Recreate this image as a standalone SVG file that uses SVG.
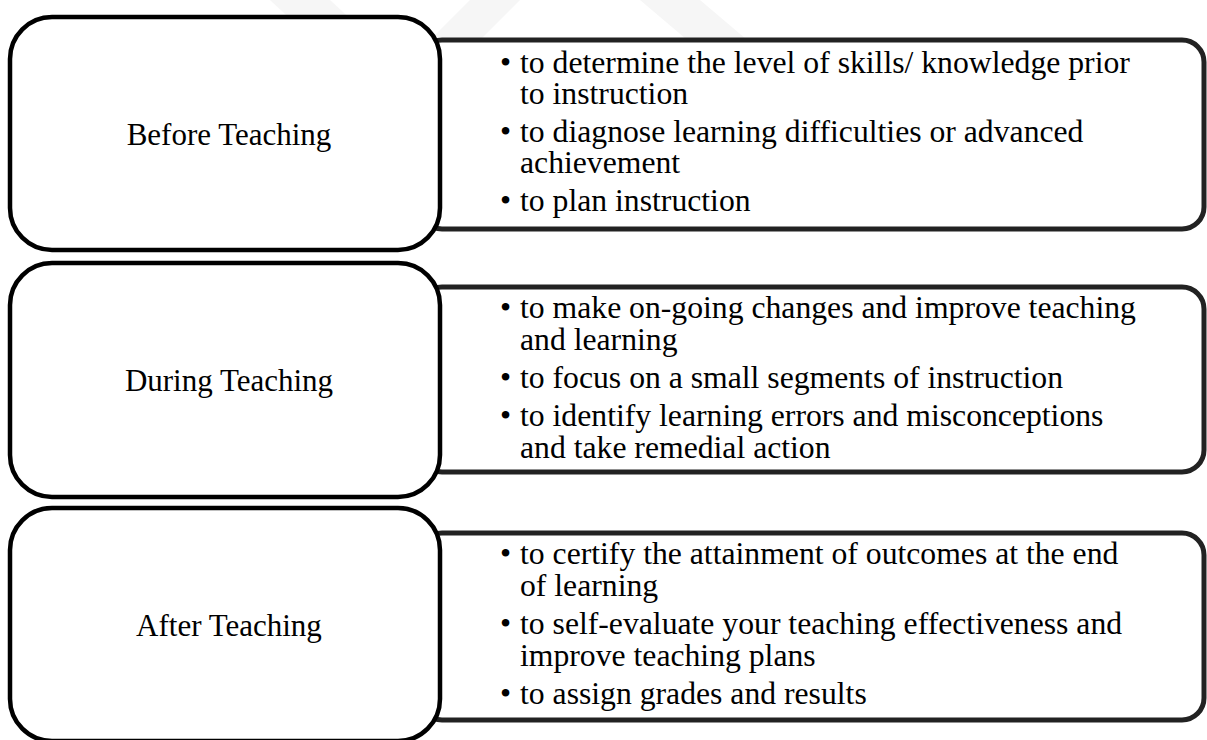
<svg xmlns="http://www.w3.org/2000/svg" width="1207" height="740" viewBox="0 0 1207 740">
<style>
  .bg { fill: #ffffff; }
  .wm { fill: #f6f6f6; }
  .stage { fill: #ffffff; stroke: #000000; stroke-width: 4.5; }
  .panel { fill: #ffffff; stroke: #222222; stroke-width: 5; }
  .label { font-family: "Liberation Serif", "Times New Roman", serif; font-size: 31px; fill: #000000; text-anchor: middle; }
  .item { font-family: "Liberation Serif", "Times New Roman", serif; font-size: 31.7px; fill: #000000; }
</style>
<rect class="bg" x="0" y="0" width="1207" height="740"/>
<g id="watermark">
  <polygon class="wm" points="270,0 330,0 470,130 410,130"/>
  <polygon class="wm" points="640,0 700,0 960,220 900,220"/>
  <polygon class="wm" points="470,0 520,0 450,70 400,70"/>
</g>
<g id="before-teaching">
  <rect class="panel" x="420" y="40" width="784" height="189" rx="22" ry="22"/>
  <rect class="stage" x="10" y="17" width="430" height="233" rx="42" ry="42"/>
  <text class="label" x="229" y="145">Before Teaching</text>
  <text class="item"><tspan x="500" y="73">•</tspan><tspan x="520" y="73">to determine the level of skills/ knowledge prior</tspan><tspan x="520" y="104">to instruction</tspan></text>
  <text class="item"><tspan x="500" y="142">•</tspan><tspan x="520" y="142">to diagnose learning difficulties or advanced</tspan><tspan x="520" y="173">achievement</tspan></text>
  <text class="item"><tspan x="500" y="211">•</tspan><tspan x="520" y="211">to plan instruction</tspan></text>
</g>
<g id="during-teaching">
  <rect class="panel" x="420" y="287" width="784" height="185" rx="22" ry="22"/>
  <rect class="stage" x="10" y="263" width="430" height="234" rx="42" ry="42"/>
  <text class="label" x="229" y="391">During Teaching</text>
  <text class="item"><tspan x="500" y="318">•</tspan><tspan x="520" y="318">to make on-going changes and improve teaching</tspan><tspan x="520" y="350">and learning</tspan></text>
  <text class="item"><tspan x="500" y="388">•</tspan><tspan x="520" y="388">to focus on a small segments of instruction</tspan></text>
  <text class="item"><tspan x="500" y="426">•</tspan><tspan x="520" y="426">to identify learning errors and misconceptions</tspan><tspan x="520" y="458">and take remedial action</tspan></text>
</g>
<g id="after-teaching">
  <rect class="panel" x="420" y="533" width="784" height="187" rx="22" ry="22"/>
  <rect class="stage" x="10" y="508" width="430" height="233" rx="42" ry="42"/>
  <text class="label" x="229" y="636">After Teaching</text>
  <text class="item"><tspan x="500" y="564">•</tspan><tspan x="520" y="564">to certify the attainment of outcomes at the end</tspan><tspan x="520" y="596">of learning</tspan></text>
  <text class="item"><tspan x="500" y="634">•</tspan><tspan x="520" y="634">to self-evaluate your teaching effectiveness and</tspan><tspan x="520" y="666">improve teaching plans</tspan></text>
  <text class="item"><tspan x="500" y="704">•</tspan><tspan x="520" y="704">to assign grades and results</tspan></text>
</g>
<g id="connectors"></g>
</svg>
